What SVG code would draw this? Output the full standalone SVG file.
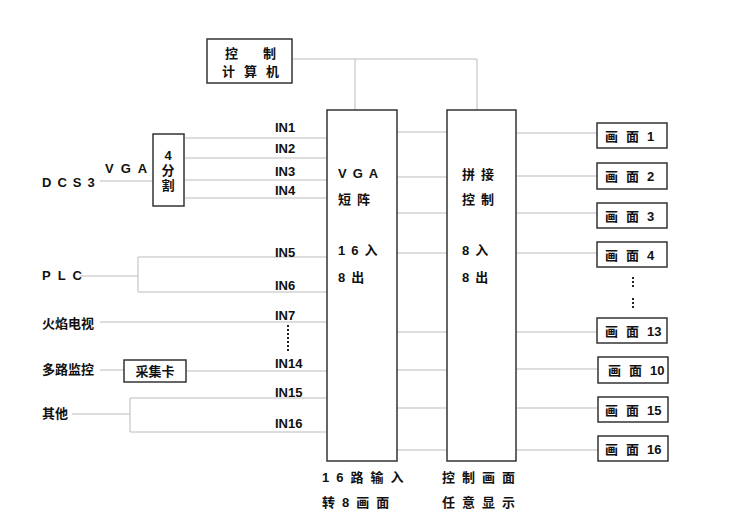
<svg xmlns="http://www.w3.org/2000/svg" width="750" height="530" viewBox="0 0 750 530">
<style>
text{font-family:"Liberation Sans","Noto Sans CJK SC",sans-serif;font-size:13px;font-weight:bold;fill:#111}
.c{text-anchor:middle}
.box{fill:#fff;stroke:#333;stroke-width:1.5}
.ln{fill:none;stroke:#bbb;stroke-width:1}
.dot{fill:none;stroke:#222;stroke-width:2;stroke-dasharray:2 2}
</style>
<rect width="750" height="530" fill="#fff"/>
<g id="connectors">
<path class="ln" d="M292 59H477V110M355 59V110"/>
<path class="ln" d="M185 138H327M185 158H327M185 180H327M185 198H327M100 181H153"/>
<path class="ln" d="M80 276H138M138 257V292M138 257H327M138 292H327"/>
<path class="ln" d="M100 322H327M100 370H124M186 371H327"/>
<path class="ln" d="M72 414H130M130 398V432M130 398H327M130 432H327"/>
<path class="ln" d="M397 132H447M397 177H447M397 213H447M397 253H447M397 332H447M397 370H447M397 408H447M397 450H447"/>
<path class="ln" d="M516 133H597M516 176H597M516 213H597M516 253H597M516 332H597M516 369H598M516 408H598M516 450H598"/>
<path class="dot" d="M288 325V353"/>
<path class="dot" d="M633 277V289M633 298V310"/>
</g>
<g id="computer"><rect class="box" x="207" y="39" width="85" height="44"/><text x="225" y="58" letter-spacing="25">控制</text><text x="222" y="76" letter-spacing="9">计算机</text></g>
<g id="split4"><rect class="box" x="153" y="134" width="31" height="72"/><text class="c" x="168" y="160">4</text><text class="c" x="168" y="175">分</text><text class="c" x="168" y="190">割</text></g>
<g id="matrix"><rect class="box" x="327" y="110" width="70" height="351"/>
<text x="338" y="178" letter-spacing="6">VGA</text><text x="338" y="204" letter-spacing="6">短阵</text><text x="338" y="255" letter-spacing="6">16入</text><text x="338" y="282" letter-spacing="6">8出</text></g>
<g id="splice"><rect class="box" x="447" y="110" width="69" height="351"/>
<text x="462" y="179" letter-spacing="6">拼接</text><text x="462" y="204" letter-spacing="6">控制</text><text x="462" y="255" letter-spacing="6">8入</text><text x="462" y="282" letter-spacing="6">8出</text></g>
<g id="labels">
<text x="42" y="187" letter-spacing="6">DCS3</text>
<text x="105" y="173" letter-spacing="7">VGA</text>
<text x="42" y="280" letter-spacing="7">PLC</text>
<text x="42" y="328">火焰电视</text>
<text x="42" y="374">多路监控</text>
<text x="42" y="418">其他</text>
<text x="275" y="132">IN1</text><text x="275" y="153">IN2</text><text x="275" y="176">IN3</text><text x="275" y="195">IN4</text>
<text x="275" y="257">IN5</text><text x="275" y="290">IN6</text><text x="275" y="320">IN7</text><text x="275" y="368">IN14</text>
<text x="275" y="397">IN15</text><text x="275" y="428">IN16</text>
<text x="322" y="482" letter-spacing="7">16路输入</text>
<text x="322" y="507" letter-spacing="7">转8画面</text>
<text x="442" y="482" letter-spacing="7">控制画面</text>
<text x="442" y="507" letter-spacing="7">任意显示</text>
</g>
<g id="card"><rect class="box" x="124" y="360" width="62" height="22"/><text class="c" x="155" y="376">采集卡</text></g>
<g id="out1"><rect class="box" x="597" y="123" width="70" height="25"/><text x="605" y="141"><tspan letter-spacing="8">画面</tspan>1</text></g>
<g id="out2"><rect class="box" x="597" y="163" width="70" height="26"/><text x="605" y="181"><tspan letter-spacing="8">画面</tspan>2</text></g>
<g id="out3"><rect class="box" x="597" y="203" width="70" height="25"/><text x="605" y="221"><tspan letter-spacing="8">画面</tspan>3</text></g>
<g id="out4"><rect class="box" x="597" y="242" width="70" height="25"/><text x="605" y="260"><tspan letter-spacing="8">画面</tspan>4</text></g>
<g id="out13"><rect class="box" x="597" y="318" width="70" height="25"/><text x="605" y="336"><tspan letter-spacing="8">画面</tspan>13</text></g>
<g id="out10"><rect class="box" x="598" y="357" width="70" height="26"/><text x="608" y="375"><tspan letter-spacing="8">画面</tspan>10</text></g>
<g id="out15"><rect class="box" x="598" y="397" width="70" height="25"/><text x="605" y="415"><tspan letter-spacing="8">画面</tspan>15</text></g>
<g id="out16"><rect class="box" x="598" y="436" width="70" height="25"/><text x="605" y="454"><tspan letter-spacing="8">画面</tspan>16</text></g>
</svg>
